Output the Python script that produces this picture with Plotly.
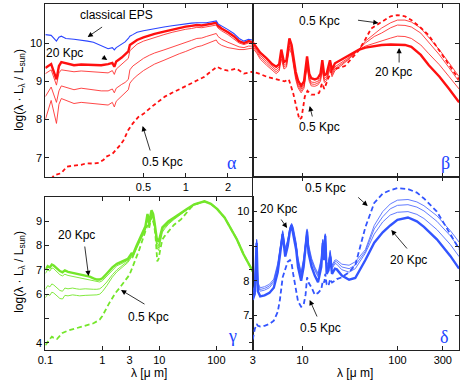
import math
import plotly.graph_objects as go

# ---------------- data ----------------
# red model set (panels alpha + beta), common wavelength grid [micron]
red_wl = [0.1, 0.11, 0.12, 0.125, 0.13, 0.14, 0.16, 0.18, 0.2, 0.22,
          0.25, 0.28, 0.3, 0.31, 0.32, 0.35, 0.37, 0.39, 0.4, 0.42,
          0.45, 0.5, 0.55, 0.6, 0.7, 0.8, 0.9, 1.0, 1.1, 1.2,
          1.3, 1.4, 1.5, 1.6, 1.65, 1.7, 1.8, 2.0, 2.2, 2.4,
          2.6, 2.8, 3.0,
          3.3, 3.6, 4.2, 4.8, 5.3, 5.7, 6.0, 6.4, 6.8, 7.3,
          7.7, 8.5, 9.0, 9.7, 10.4, 11.2, 11.8, 12.4, 13.5, 14.5,
          15.5, 16.2, 17, 18, 19.5, 20.5, 22, 30, 39, 46,
          57, 68, 85, 100, 120, 140, 176, 214, 277, 350, 445]
red_20kpc = [9.35, 9.45, 9.05, 9.4, 9.5, 9.47, 9.42, 9.44, 9.43, 9.42,
             9.42, 9.45, 9.48, 9.38, 9.52, 9.62, 9.7, 9.78, 9.95, 10.0,
             10.08, 10.15, 10.2, 10.24, 10.3, 10.35, 10.4, 10.43, 10.45, 10.47,
             10.46, 10.48, 10.5, 10.52, 10.53, 10.45, 10.38, 10.28, 10.18, 10.05,
             10.0, 10.05, 10.02,
             9.88, 9.75, 9.6, 9.45, 9.38, 9.45, 9.83, 9.5, 9.55, 10.12,
             9.95, 9.25, 9.02, 8.88, 9.0, 9.65, 9.2, 9.08, 9.05, 9.08,
             9.2, 9.55, 9.15, 9.2, 9.55, 9.3, 9.47, 9.65, 9.82, 9.88,
             9.92, 9.95, 9.96, 9.96, 9.95, 9.9, 9.69, 9.42, 9.12, 8.8, 8.45]
red_mid1 = [9.2, 9.3, 8.9, 9.22, 9.3, 9.28, 9.25, 9.27, 9.26, 9.25,
            9.22, 9.22, 9.28, 9.18, 9.32, 9.45, 9.52, 9.6, 9.8, 9.88,
            9.97, 10.05, 10.1, 10.15, 10.22, 10.28, 10.33, 10.36, 10.38, 10.41,
            10.4, 10.42, 10.44, 10.46, 10.47, 10.39, 10.32, 10.22, 10.1, 10.0,
            9.96, 10.0, 9.97,
            9.82, 9.68, 9.52, 9.38, 9.3, 9.38, 9.72, 9.42, 9.47, 10.0,
            9.85, 9.15, 8.93, 8.8, 8.92, 9.52, 9.1, 8.98, 8.97, 9.0,
            9.1, 9.42, 9.07, 9.12, 9.45, 9.22, 9.38, 9.6, 9.82, 9.92,
            10.0, 10.05, 10.13, 10.18, 10.17, 10.12, 9.95, 9.72, 9.43, 9.12, 8.8]
red_mid2 = [8.6, 8.85, 8.45, 8.75, 8.88, 8.85, 8.78, 8.82, 8.8, 8.78,
            8.75, 8.75, 8.8, 8.7, 8.82, 8.92, 8.97, 9.05, 9.3, 9.4,
            9.48, 9.6, 9.68, 9.74, 9.82, 9.9, 9.97, 10.03, 10.07, 10.12,
            10.13, 10.17, 10.2, 10.23, 10.25, 10.17, 10.1, 10.02, 9.95, 9.9,
            9.88, 9.92, 9.92,
            9.78, 9.63, 9.47, 9.33, 9.25, 9.32, 9.65, 9.37, 9.42, 9.92,
            9.78, 9.1, 8.88, 8.75, 8.87, 9.45, 9.05, 8.93, 8.92, 8.95,
            9.05, 9.35, 9.02, 9.07, 9.38, 9.17, 9.33, 9.57, 9.82, 10.0,
            10.17, 10.26, 10.4, 10.47, 10.46, 10.42, 10.26, 10.02, 9.69, 9.35, 8.99]
red_mid3 = [8.0, 8.5, 7.9, 8.4, 8.55, 8.5, 8.42, 8.45, 8.43, 8.42,
            8.4, 8.38, 8.45, 8.33, 8.48, 8.62, 8.7, 8.78, 8.95, 9.05,
            9.15, 9.28, 9.37, 9.45, 9.55, 9.65, 9.72, 9.78, 9.85, 9.9,
            9.93, 9.98, 10.03, 10.07, 10.08, 10.0, 9.94, 9.88, 9.85, 9.83,
            9.83, 9.86, 9.87,
            9.74, 9.58, 9.42, 9.28, 9.2, 9.27, 9.58, 9.32, 9.37, 9.85,
            9.72, 9.05, 8.83, 8.7, 8.82, 9.38, 9.0, 8.88, 8.87, 8.9,
            9.0, 9.28, 8.97, 9.02, 9.32, 9.12, 9.28, 9.55, 9.82, 10.05,
            10.25, 10.39, 10.53, 10.6, 10.6, 10.55, 10.39, 10.15, 9.82, 9.48, 9.12]
red05_wl = [0.11, 0.116, 0.13, 0.142, 0.16, 0.18, 0.197, 0.22, 0.24, 0.26,
            0.271, 0.3, 0.335, 0.36, 0.39, 0.42, 0.46, 0.5, 0.57, 0.63,
            0.71, 0.8, 0.9, 0.98, 1.1, 1.2, 1.36, 1.5, 1.67, 1.8,
            2.0, 2.3, 2.6, 3.0, 3.5, 4.2, 5.3, 6.5, 7.2, 8.0,
            8.7, 9.3, 9.8, 10.6, 11.3, 12.4, 13.7, 15, 16.1, 17,
            18.5, 20.5, 24, 28, 33, 39, 46, 53, 68, 85,
            100, 120, 140, 176, 214, 277, 350, 445]
red_05kpc = [6.45, 6.55, 6.6, 6.77, 6.8, 6.82, 6.86, 6.85, 6.87, 6.95,
             7.03, 7.1, 7.3, 7.45, 7.73, 7.9, 8.07, 8.15, 8.33, 8.45,
             8.6, 8.7, 8.8, 8.86, 8.95, 9.02, 9.12, 9.25, 9.38, 9.32,
             9.28, 9.33, 9.2, 9.25, 9.2, 9.12, 9.05, 9.0, 9.05, 8.69,
             8.3, 8.0, 8.05, 8.6, 8.75, 8.65, 8.65, 8.7, 8.95, 8.8,
             9.05, 9.3, 9.35, 9.4, 9.6, 9.8, 10.1, 10.38, 10.55, 10.7,
             10.73, 10.7, 10.6, 10.4, 10.2, 9.8, 9.45, 9.05]
# classical EPS (alpha panel)
eps_wl = red_wl[:43]
eps_val = [10.22, 10.2, 10.05, 10.15, 10.18, 10.12, 10.1, 10.08, 10.05, 10.02,
           9.93, 9.85, 9.88, 9.82, 9.88, 9.98, 10.03, 10.12, 10.18, 10.22,
           10.28, 10.32, 10.35, 10.38, 10.42, 10.45, 10.48, 10.5, 10.52, 10.53,
           10.52, 10.53, 10.55, 10.57, 10.58, 10.5, 10.45, 10.35, 10.25, 10.12,
           10.05, 10.1, 10.08]

# green model set (gamma panel)
grn_wl = [0.1, 0.11, 0.12, 0.13, 0.14, 0.16, 0.18, 0.2, 0.22, 0.25,
          0.3, 0.35, 0.4, 0.5, 0.6, 0.7, 0.8, 0.9,
          1.0, 1.2, 1.5, 1.8, 2.3, 2.8, 3.3, 3.4,
          4.0, 5.0, 5.7, 6.2, 6.6, 7.3, 7.8, 8.3, 9.0, 9.7,
          10.5, 11.3, 12.5, 14.5, 18, 24, 30, 41, 55, 62,
          80, 104, 140, 175, 230, 300, 360, 445]
grn_20kpc = [7.0, 7.15, 7.1, 7.22, 7.18, 7.05, 6.95, 6.9, 6.98, 6.92,
             6.88, 6.85, 6.8, 6.78, 6.72, 6.65, 6.6, 6.6,
             6.65, 6.85, 7.1, 7.25, 7.35, 7.45, 7.7, 7.6,
             8.0, 8.5, 8.8, 9.3, 8.95, 9.45, 9.3, 8.9, 8.3, 8.15,
             8.5, 8.75, 8.85, 9.0, 9.15, 9.36, 9.5, 9.7, 9.8, 9.82,
             9.72, 9.5, 9.15, 8.75, 8.25, 7.64, 7.3, 6.9]
grn_mid1 = [6.85, 7.0, 6.95, 7.08, 7.05, 6.9, 6.8, 6.75, 6.82, 6.77,
            6.73, 6.7, 6.66, 6.63, 6.58, 6.53, 6.5, 6.5,
            6.55, 6.75, 7.0, 7.17, 7.28, 7.4, 7.65, 7.55,
            7.95, 8.45, 8.72, 9.2, 8.85, 9.38, 9.2, 8.8, 8.15, 8.0,
            8.4, 8.68, 8.8, 8.95, 9.12, 9.34, 9.48, 9.69, 9.8, 9.82,
            9.72, 9.5, 9.15, 8.75, 8.25, 7.64, 7.3, 6.9]
grn_mid2 = [6.2, 6.35, 6.3, 6.42, 6.38, 6.25, 6.15, 6.12, 6.25, 6.22,
            6.25, 6.22, 6.2, 6.22, 6.2, 6.2, 6.2, 6.22,
            6.3, 6.5, 6.8, 7.0, 7.2, 7.35, 7.6, 7.52,
            7.92, 8.42, 8.68, 9.15, 8.8, 9.32, 9.15, 8.75, 8.05, 7.9,
            8.32, 8.62, 8.75, 8.92, 9.1, 9.32, 9.47, 9.68, 9.8, 9.82,
            9.72, 9.5, 9.15, 8.75, 8.25, 7.64, 7.3, 6.9]
grn_mid3 = [5.85, 6.0, 5.95, 6.08, 6.05, 5.92, 5.82, 5.8, 5.95, 5.93,
            5.97, 5.95, 5.93, 5.95, 5.95, 5.95, 5.97, 6.0,
            6.1, 6.35, 6.7, 6.92, 7.13, 7.3, 7.55, 7.48,
            7.88, 8.38, 8.64, 9.1, 8.75, 9.28, 9.1, 8.7, 7.95, 7.8,
            8.25, 8.55, 8.7, 8.88, 9.07, 9.3, 9.46, 9.67, 9.79, 9.82,
            9.72, 9.5, 9.15, 8.75, 8.25, 7.64, 7.3, 6.9]
grn05_wl = [0.1, 0.11, 0.12, 0.13, 0.14, 0.16, 0.18, 0.2, 0.25, 0.3,
            0.4, 0.5, 0.7, 0.9, 1.0, 1.3, 1.7, 2.0, 3.0, 4.4,
            5.7, 6.2, 6.6, 7.3, 8.0, 8.5, 9.2, 9.7, 10.5, 11.3,
            12.5, 14.5, 18, 24, 30, 37, 45, 55, 62, 80,
            104, 140, 175, 230, 300, 360, 445]
grn_05kpc = [3.9, 4.05, 4.15, 4.25, 4.2, 4.15, 4.3, 4.4, 4.5, 4.55,
             4.65, 4.7, 4.8, 4.95, 5.1, 5.6, 6.05, 6.25, 6.8, 7.8,
             8.6, 8.85, 8.7, 9.2, 8.9, 8.5, 7.35, 7.45, 7.9, 8.25,
             8.4, 8.6, 8.85, 9.08, 9.35, 9.6, 9.72, 9.8, 9.82, 9.72,
             9.5, 9.15, 8.75, 8.25, 7.64, 7.3, 6.9]

# blue model set (delta panel)
blu_wl = [3.0, 3.15, 3.3, 3.4, 3.6, 4.0, 4.5, 5.0, 5.5, 5.8,
          6.2, 6.6, 7.0, 7.4, 7.7, 8.0, 8.6, 9.0, 9.7, 10.3,
          10.8, 11.2, 11.6, 12.5, 13.5, 14.6, 15.8, 16.4, 17.0, 17.4,
          18.0, 18.8, 19.6, 20.5, 22, 23, 26, 31, 36,
          46, 57, 70, 84, 100, 129, 160, 190, 260, 360, 445]
blu_20kpc = [7.45, 7.62, 9.1, 7.7, 7.55, 7.58, 7.65, 7.8, 8.25, 8.7,
             9.35, 8.7, 9.0, 9.45, 9.6, 9.35, 8.9, 8.4, 8.0, 8.4,
             8.9, 9.42, 8.8, 8.4, 8.15, 7.96, 8.4, 9.1, 8.6, 9.3,
             8.2, 8.3, 8.7, 8.2, 8.35, 8.33, 8.15, 8.03, 8.08,
             8.6, 9.1, 9.4, 9.6, 9.76, 9.83, 9.72, 9.56, 9.2, 8.72, 8.35]
blu_mid1 = [7.6, 7.77, 9.15, 7.85, 7.7, 7.73, 7.8, 7.95, 8.4, 8.82,
            9.4, 8.85, 9.12, 9.5, 9.62, 9.45, 9.02, 8.55, 8.15, 8.55,
            9.0, 9.45, 8.95, 8.55, 8.3, 8.12, 8.55, 9.15, 8.75, 9.32,
            8.35, 8.45, 8.8, 8.35, 8.5, 8.48, 8.32, 8.25, 8.35,
            8.8, 9.35, 9.7, 9.9, 9.98, 10.0, 9.92, 9.8, 9.48, 9.05, 8.7]
blu_mid2 = [7.65, 7.82, 9.18, 7.9, 7.75, 7.78, 7.85, 8.0, 8.45, 8.86,
            9.42, 8.9, 9.15, 9.52, 9.64, 9.5, 9.06, 8.6, 8.2, 8.6,
            9.04, 9.47, 9.0, 8.6, 8.35, 8.17, 8.6, 9.18, 8.8, 9.34,
            8.4, 8.5, 8.84, 8.4, 8.55, 8.55, 8.4, 8.35, 8.45,
            8.85, 9.5, 9.85, 10.08, 10.18, 10.2, 10.13, 10.02, 9.72, 9.3, 8.95]
blu_mid3 = [7.7, 7.87, 9.2, 7.95, 7.8, 7.83, 7.9, 8.05, 8.5, 8.9,
            9.45, 8.95, 9.18, 9.55, 9.66, 9.55, 9.1, 8.65, 8.25, 8.65,
            9.08, 9.5, 9.05, 8.65, 8.4, 8.22, 8.65, 9.2, 8.85, 9.36,
            8.45, 8.55, 8.88, 8.45, 8.6, 8.6, 8.48, 8.45, 8.55,
            8.9, 9.6, 10.0, 10.22, 10.33, 10.35, 10.28, 10.17, 9.88, 9.45, 9.12]
blu_05kpc = [6.3, 6.6, 6.75, 6.7, 6.68, 6.7, 6.75, 6.85, 7.1, 7.45,
             8.1, 8.3, 8.55, 8.6, 8.5, 8.2, 7.7, 7.4, 7.25, 7.3,
             7.6, 8.1, 7.95, 7.8, 7.6, 7.65, 7.75, 8.0, 7.95, 8.2,
             7.9, 7.85, 8.05, 7.95, 8.0, 8.05, 8.1, 8.25, 8.45,
             9.55, 10.25, 10.52, 10.62, 10.68, 10.65, 10.55, 10.38, 10.0, 9.35, 8.92]

# axis ticks
a_xticks = [0.5, 1, 2]
a_yticks = [7, 8, 9, 10]
b_xticks = [10, 100, 300]
g_xticks = [0.1, 1, 3, 10, 100]
g_xtext = ["0.1", "1", "3", "10", "100"]
g_yticks = [4, 5, 6, 7, 8, 9]
g_ytext = ["4", "", "6", "7", "8", "9"]
d_xticks = [3, 10, 100, 300]
d_yticks = [7, 8, 9, 10]
d_ytext = ["7", "8", "", "10"]

# ---------------- figure ----------------
W, H = 463, 382
RED, GREEN, BLUE, EPS = "#ff1010", "#74e62a", "#3355ff", "#2a44ff"

fig = go.Figure()

def add(x, y, ax, color, width, dash="solid", opacity=1.0):
    fig.add_trace(go.Scatter(x=x, y=y, mode="lines", xaxis="x" + ax, yaxis="y" + ax,
                             line=dict(color=color, width=width, dash=dash),
                             opacity=opacity, hoverinfo="skip"))

for ax in ["", "2"]:
    for series in (red_mid1, red_mid2, red_mid3):
        add(red_wl, series, ax, RED, 0.9, opacity=0.85)
    add(red05_wl, red_05kpc, ax, RED, 1.8, dash="4px,3px")
    add(red_wl, red_20kpc, ax, RED, 2.4)
add(eps_wl, eps_val, "", EPS, 1.1)

for series in (grn_mid1, grn_mid2, grn_mid3):
    add(grn_wl, series, "3", GREEN, 0.9)
add(grn05_wl, grn_05kpc, "3", GREEN, 1.8, dash="5px,3px")
add(grn_wl, grn_20kpc, "3", GREEN, 2.4)

for series in (blu_mid1, blu_mid2, blu_mid3):
    add(blu_wl, series, "4", BLUE, 0.9, opacity=0.85)
add(blu_wl, blu_05kpc, "4", BLUE, 1.8, dash="5px,3px")
add(blu_wl, blu_20kpc, "4", BLUE, 2.4)

TICKF = dict(family="Liberation Sans, Arial, sans-serif", size=11, color="black")
common = dict(showline=True, linecolor="#222", linewidth=1, mirror="allticks",
              ticks="inside", ticklen=4, tickcolor="#222", showgrid=False,
              zeroline=False, tickfont=TICKF)

def dx(a, b):
    return [a / W, b / W]

def dy(top, bottom):
    return [1 - bottom / H, 1 - top / H]

fig.update_layout(
    width=W, height=H, margin=dict(l=0, r=0, t=0, b=0), autosize=False,
    paper_bgcolor="white", plot_bgcolor="white", showlegend=False,
    xaxis=dict(domain=dx(38, 249), anchor="y", type="log",
               range=[-1, math.log10(3)], tickvals=a_xticks,
               ticktext=[str(v) for v in a_xticks], **common),
    yaxis=dict(domain=dy(4, 177), anchor="x", range=[6.5, 11.02],
               tickvals=a_yticks, **common),
    xaxis2=dict(domain=dx(249, 459), anchor="y2", type="log",
                range=[math.log10(3), math.log10(445)], tickvals=b_xticks,
                showticklabels=False, **common),
    yaxis2=dict(domain=dy(4, 177), anchor="x2", range=[6.5, 11.02],
                tickvals=a_yticks, showticklabels=False, **common),
    xaxis3=dict(domain=dx(38, 249), anchor="y3", type="log",
                range=[-1, 2.638], tickvals=g_xticks, ticktext=g_xtext, **common),
    yaxis3=dict(domain=dy(197, 350), anchor="x3", range=[3.7, 10.0],
                tickvals=g_yticks, ticktext=g_ytext, **common),
    xaxis4=dict(domain=dx(249, 459), anchor="y4", type="log",
                range=[math.log10(3), math.log10(445)], tickvals=d_xticks,
                ticktext=[str(v) for v in d_xticks], **common),
    yaxis4=dict(domain=dy(177, 350), anchor="x4", range=[6.0, 11.0],
                tickvals=d_yticks, ticktext=d_ytext, **common),
)

FONT = dict(family="Liberation Sans, Arial, sans-serif", size=12, color="black")
ann = []

def text(x, y, s, size=12, color="black", family=None, angle=0):
    f = dict(FONT, size=size, color=color)
    if family:
        f["family"] = family
    ann.append(dict(x=x / W, y=1 - y / H, xref="paper", yref="paper", text=s,
                    showarrow=False, font=f, xanchor="center", yanchor="middle",
                    textangle=angle))

def arrow(tail, tip):
    ann.append(dict(x=tip[0] / W, y=1 - tip[1] / H, xref="paper", yref="paper",
                    ax=tail[0] - tip[0], ay=tail[1] - tip[1], text="",
                    showarrow=True, arrowhead=2, arrowsize=1.3, arrowwidth=0.8,
                    arrowcolor="black", standoff=0, startstandoff=0))

text(110, 15, "classical EPS"); arrow((97, 26), (81, 37))
text(58, 53, "20 Kpc"); arrow((95, 56), (101, 60))
text(157, 162, "0.5 Kpc"); arrow((145, 152), (137, 126))
text(317, 21, "0.5 Kpc"); arrow((355, 20), (377, 23))
text(392, 72, "20 Kpc"); arrow((398, 64), (398, 48))
text(317, 127, "0.5 Kpc"); arrow((310, 118), (307, 106))
text(70, 235, "20 Kpc"); arrow((78, 245), (82, 276))
text(143, 317, "0.5 Kpc"); arrow((140, 305), (115, 290))
text(323, 188, "0.5 Kpc"); arrow((355, 196), (366, 206))
text(275, 209, "20 Kpc"); arrow((277, 218), (284, 228))
text(318, 328, "0.5 Kpc"); arrow((315, 318), (307, 300))
text(408, 260, "20 Kpc"); arrow((407, 250), (390, 230))

GREEK = "Liberation Serif, DejaVu Serif, serif"
text(228, 163, "α", size=18, color="#2244ff", family=GREEK)
text(445, 163, "β", size=18, color="#2244ff", family=GREEK)
text(228, 336, "γ", size=18, color="#2244ff", family=GREEK)
text(444, 337, "δ", size=18, color="#2244ff", family=GREEK)

ytitle = "log(λ · L<sub>λ</sub> / L<sub>sun</sub>)"
text(12, 90, ytitle, angle=-90)
text(12, 272, ytitle, angle=-90)
text(143, 373, "λ [μ m]")
text(353, 373, "λ [μ m]")

fig.update_layout(annotations=ann)
fig.write_html("out.html", config={"displayModeBar": False},
               post_script="document.body.style.margin='0';document.body.style.overflow='hidden';")
